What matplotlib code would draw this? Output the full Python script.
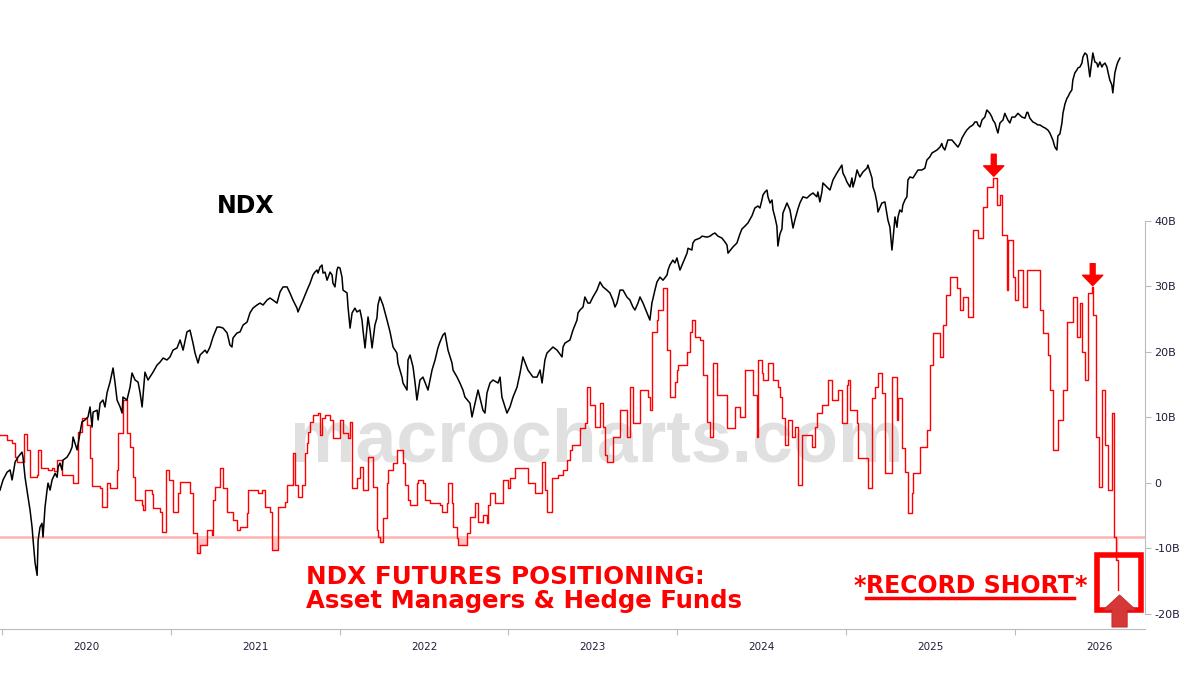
import numpy as np
import matplotlib
matplotlib.use('Agg')
import matplotlib.pyplot as plt
from matplotlib.patches import Rectangle

# NDX futures positioning, asset managers + hedge funds (billions), weekly steps
pos_t = [2019.958, 2020.000, 2020.030, 2020.048, 2020.060, 2020.101, 2020.119, 2020.137, 2020.179, 2020.185,
         2020.202, 2020.244, 2020.268, 2020.280, 2020.298, 2020.327, 2020.393, 2020.423, 2020.446, 2020.476,
         2020.494, 2020.506, 2020.554, 2020.565, 2020.595, 2020.613, 2020.655, 2020.661, 2020.690, 2020.714,
         2020.732, 2020.750, 2020.762, 2020.804, 2020.810, 2020.821, 2020.863, 2020.869, 2020.911, 2020.923,
         2020.946, 2020.964, 2020.988, 2021.018, 2021.030, 2021.089, 2021.107, 2021.131, 2021.149, 2021.190,
         2021.220, 2021.226, 2021.238, 2021.268, 2021.286, 2021.310, 2021.345, 2021.369, 2021.387, 2021.429,
         2021.435, 2021.494, 2021.518, 2021.536, 2021.565, 2021.577, 2021.613, 2021.655, 2021.667, 2021.702,
         2021.714, 2021.732, 2021.756, 2021.774, 2021.786, 2021.792, 2021.804, 2021.821, 2021.851, 2021.863,
         2021.875, 2021.893, 2021.923, 2021.940, 2021.982, 2022.000, 2022.030, 2022.042, 2022.054, 2022.083,
         2022.101, 2022.119, 2022.149, 2022.179, 2022.202, 2022.208, 2022.220, 2022.238, 2022.262, 2022.268,
         2022.298, 2022.321, 2022.357, 2022.369, 2022.387, 2022.399, 2022.440, 2022.446, 2022.476, 2022.488,
         2022.518, 2022.577, 2022.589, 2022.619, 2022.625, 2022.649, 2022.655, 2022.679, 2022.685, 2022.738,
         2022.756, 2022.786, 2022.804, 2022.833, 2022.857, 2022.863, 2022.875, 2022.905, 2022.952, 2022.982,
         2022.994, 2023.024, 2023.101, 2023.143, 2023.185, 2023.202, 2023.214, 2023.244, 2023.280, 2023.310,
         2023.333, 2023.351, 2023.363, 2023.411, 2023.440, 2023.452, 2023.470, 2023.500, 2023.530, 2023.548,
         2023.560, 2023.571, 2023.607, 2023.649, 2023.690, 2023.708, 2023.726, 2023.768, 2023.815, 2023.827,
         2023.839, 2023.869, 2023.875, 2023.905, 2023.929, 2023.946, 2023.976, 2023.988, 2023.994, 2024.048,
         2024.065, 2024.077, 2024.095, 2024.125, 2024.143, 2024.167, 2024.185, 2024.202, 2024.226, 2024.286,
         2024.333, 2024.363, 2024.393, 2024.440, 2024.464, 2024.470, 2024.494, 2024.500, 2024.530, 2024.560,
         2024.589, 2024.601, 2024.613, 2024.631, 2024.649, 2024.673, 2024.690, 2024.708, 2024.732, 2024.792,
         2024.810, 2024.821, 2024.851, 2024.887, 2024.911, 2024.946, 2024.970, 2025.000, 2025.006, 2025.018,
         2025.060, 2025.065, 2025.125, 2025.149, 2025.167, 2025.185, 2025.208, 2025.226, 2025.268, 2025.298,
         2025.304, 2025.327, 2025.345, 2025.363, 2025.387, 2025.393, 2025.435, 2025.476, 2025.494, 2025.512,
         2025.554, 2025.571, 2025.589, 2025.613, 2025.655, 2025.673, 2025.690, 2025.720, 2025.750, 2025.780,
         2025.810, 2025.833, 2025.869, 2025.893, 2025.911, 2025.923, 2025.952, 2025.958, 2025.988, 2026.000,
         2026.018, 2026.048, 2026.071, 2026.149, 2026.167, 2026.196, 2026.208, 2026.226, 2026.256, 2026.286,
         2026.310, 2026.345, 2026.369, 2026.387, 2026.399, 2026.417, 2026.435, 2026.458, 2026.464, 2026.482,
         2026.500, 2026.518, 2026.536, 2026.554, 2026.577, 2026.589, 2026.601, 2026.613]
pos_b = [7.3, 6.6, 6.1, 4.0, 3.2, 7.5, 5.0, 0.9, 1.2, 5.0,
         2.3, 2.0, 2.3, 1.8, 3.5, 1.2, 0.0, 7.8, 9.9, 8.9,
         3.8, -0.5, -0.8, -3.7, 0.0, -0.8, 2.0, 7.6, 12.7, 7.6,
         5.5, 0.9, -2.6, -3.4, -4.1, -1.1, -1.7, -3.8, -4.4, -7.5,
         2.0, 0.5, -4.4, -1.5, 0.2, -1.5, -7.6, -10.7, -9.5, -7.2,
         -7.9, -2.6, -0.6, 2.3, -0.8, -4.4, -5.7, -7.2, -6.7, -4.6,
         -1.1, -1.5, -1.1, -3.7, -4.4, -10.2, -3.7, -2.9, -0.3, 4.6,
         -0.3, -2.1, -0.3, 4.6, 6.1, 7.8, 9.3, 10.4, 10.7, 7.3,
         9.9, 10.4, 9.6, 6.9, 9.6, 7.6, 6.9, 9.3, -0.8, 0.8,
         2.4, -1.1, 4.0, -0.6, -7.2, -8.2, -9.0, -5.3, 0.0, 2.0,
         3.1, 5.0, 3.1, -0.3, -2.6, -3.4, 0.0, 0.5, 0.0, -2.6,
         -3.1, -3.4, -4.4, -3.1, 0.0, -3.1, -6.7, -8.4, -9.5, -7.6,
         -5.2, -3.1, -6.0, -4.9, -6.1, -3.4, -1.5, -3.1, 0.5, -0.8,
         0.8, 2.3, 0.0, -1.5, 3.2, -1.1, -4.4, 0.8, 1.2, 2.0,
         3.5, 5.0, 5.8, 8.4, 9.2, 14.7, 11.9, 8.6, 12.2, 8.6,
         4.3, 3.2, 7.0, 11.1, 7.0, 14.7, 9.2, 14.2, 13.1, 11.1,
         23.1, 24.9, 26.4, 29.8, 20.3, 13.1, 15.4, 17.3, 18.0, 20.0,
         23.1, 24.9, 22.3, 21.8, 16.5, 9.3, 7.0, 18.3, 13.4, 8.4,
         11.6, 10.1, 17.3, 13.4, 7.0, 18.8, 16.8, 15.7, 18.3, 15.7,
         14.7, 13.1, 9.9, 5.8, 9.6, 7.0, 8.6, -0.3, 7.3, 5.5,
         8.6, 10.7, 11.9, 15.7, 12.7, 14.2, 9.2, 15.0, 15.7, 11.1,
         9.2, 3.8, -0.8, 13.0, 14.7, 16.8, 13.7, 1.5, 16.2, 9.6,
         13.0, 5.3, 1.7, -4.6, -1.5, 1.5, 5.5, 8.1, 18.0, 22.9,
         19.2, 24.1, 28.7, 31.5, 29.8, 26.4, 28.4, 25.3, 38.6, 37.4,
         42.1, 45.2, 46.6, 42.4, 44.0, 37.9, 29.5, 37.1, 31.5, 27.9,
         32.5, 26.9, 32.5, 26.4, 22.9, 19.5, 14.2, 5.0, 9.6, 14.2,
         24.6, 28.4, 22.3, 27.5, 20.0, 15.7, 29.0, 29.9, 25.7, 7.0,
         -0.6, 14.2, 5.8, -1.1, 10.7, -8.2, -11.8, -16.3]

# NDX index level
ndx_t = [2019.958, 2019.976, 2020.000, 2020.018, 2020.030, 2020.048, 2020.065, 2020.089, 2020.095, 2020.107,
         2020.119, 2020.125, 2020.137, 2020.149, 2020.155, 2020.167, 2020.179, 2020.185, 2020.196, 2020.208,
         2020.214, 2020.226, 2020.238, 2020.244, 2020.256, 2020.268, 2020.286, 2020.298, 2020.304, 2020.315,
         2020.327, 2020.333, 2020.357, 2020.375, 2020.387, 2020.393, 2020.417, 2020.435, 2020.446, 2020.464,
         2020.482, 2020.494, 2020.506, 2020.512, 2020.536, 2020.542, 2020.554, 2020.571, 2020.583, 2020.595,
         2020.613, 2020.625, 2020.631, 2020.643, 2020.655, 2020.673, 2020.685, 2020.690, 2020.714, 2020.732,
         2020.744, 2020.762, 2020.780, 2020.792, 2020.804, 2020.821, 2020.839, 2020.869, 2020.893, 2020.911,
         2020.929, 2020.952, 2020.970, 2020.988, 2021.012, 2021.030, 2021.048, 2021.071, 2021.089, 2021.107,
         2021.119, 2021.137, 2021.149, 2021.179, 2021.190, 2021.208, 2021.226, 2021.250, 2021.268, 2021.286,
         2021.310, 2021.327, 2021.339, 2021.345, 2021.369, 2021.387, 2021.405, 2021.429, 2021.446, 2021.464,
         2021.488, 2021.506, 2021.524, 2021.548, 2021.565, 2021.583, 2021.607, 2021.625, 2021.643, 2021.667,
         2021.684, 2021.702, 2021.726, 2021.732, 2021.744, 2021.762, 2021.786, 2021.804, 2021.821, 2021.833,
         2021.845, 2021.851, 2021.863, 2021.875, 2021.881, 2021.893, 2021.905, 2021.923, 2021.935, 2021.940,
         2021.952, 2021.964, 2021.970, 2021.982, 2021.994, 2022.000, 2022.024, 2022.030, 2022.042, 2022.054,
         2022.071, 2022.083, 2022.101, 2022.113, 2022.119, 2022.131, 2022.143, 2022.149, 2022.161, 2022.173,
         2022.190, 2022.202, 2022.208, 2022.220, 2022.238, 2022.262, 2022.280, 2022.298, 2022.321, 2022.327,
         2022.339, 2022.351, 2022.357, 2022.381, 2022.387, 2022.399, 2022.417, 2022.429, 2022.440, 2022.458,
         2022.476, 2022.506, 2022.530, 2022.548, 2022.565, 2022.577, 2022.595, 2022.607, 2022.625, 2022.649,
         2022.655, 2022.679, 2022.696, 2022.714, 2022.726, 2022.756, 2022.768, 2022.786, 2022.804, 2022.833,
         2022.845, 2022.857, 2022.875, 2022.893, 2022.923, 2022.935, 2022.946, 2022.976, 2022.994, 2023.012,
         2023.036, 2023.054, 2023.071, 2023.101, 2023.131, 2023.155, 2023.173, 2023.185, 2023.202, 2023.214,
         2023.232, 2023.250, 2023.274, 2023.304, 2023.310, 2023.321, 2023.351, 2023.369, 2023.393, 2023.399,
         2023.411, 2023.429, 2023.440, 2023.458, 2023.470, 2023.488, 2023.512, 2023.530, 2023.548, 2023.571,
         2023.589, 2023.607, 2023.619, 2023.631, 2023.649, 2023.667, 2023.690, 2023.708, 2023.726, 2023.738,
         2023.756, 2023.768, 2023.786, 2023.810, 2023.827, 2023.839, 2023.857, 2023.869, 2023.887, 2023.905,
         2023.929, 2023.935, 2023.946, 2023.964, 2023.976, 2023.988, 2024.006, 2024.024, 2024.048, 2024.054,
         2024.077, 2024.083, 2024.095, 2024.125, 2024.137, 2024.167, 2024.185, 2024.202, 2024.214, 2024.232,
         2024.256, 2024.274, 2024.286, 2024.292, 2024.321, 2024.345, 2024.363, 2024.375, 2024.393, 2024.411,
         2024.435, 2024.452, 2024.470, 2024.482, 2024.494, 2024.500, 2024.512, 2024.524, 2024.530, 2024.542,
         2024.554, 2024.560, 2024.571, 2024.583, 2024.589, 2024.601, 2024.613, 2024.619, 2024.643, 2024.661,
         2024.679, 2024.690, 2024.708, 2024.720, 2024.738, 2024.762, 2024.780, 2024.798, 2024.821, 2024.827,
         2024.839, 2024.851, 2024.857, 2024.881, 2024.899, 2024.917, 2024.940, 2024.958, 2024.970, 2024.976,
         2024.988, 2025.000, 2025.018, 2025.030, 2025.036, 2025.048, 2025.060, 2025.077, 2025.095, 2025.119,
         2025.125, 2025.149, 2025.155, 2025.167, 2025.179, 2025.185, 2025.208, 2025.226, 2025.244, 2025.256,
         2025.268, 2025.274, 2025.286, 2025.298, 2025.304, 2025.315, 2025.327, 2025.333, 2025.345, 2025.357,
         2025.363, 2025.375, 2025.393, 2025.423, 2025.446, 2025.464, 2025.476, 2025.494, 2025.506, 2025.536,
         2025.554, 2025.565, 2025.571, 2025.583, 2025.595, 2025.601, 2025.625, 2025.643, 2025.661, 2025.673,
         2025.685, 2025.702, 2025.714, 2025.732, 2025.750, 2025.762, 2025.774, 2025.780, 2025.792, 2025.804,
         2025.821, 2025.833, 2025.851, 2025.863, 2025.869, 2025.881, 2025.893, 2025.899, 2025.911, 2025.929,
         2025.940, 2025.958, 2025.970, 2025.982, 2026.000, 2026.018, 2026.042, 2026.060, 2026.071, 2026.077,
         2026.089, 2026.107, 2026.119, 2026.137, 2026.149, 2026.167, 2026.179, 2026.196, 2026.208, 2026.226,
         2026.238, 2026.250, 2026.256, 2026.268, 2026.280, 2026.286, 2026.298, 2026.310, 2026.315, 2026.327,
         2026.339, 2026.345, 2026.357, 2026.369, 2026.375, 2026.387, 2026.399, 2026.405, 2026.417, 2026.429,
         2026.435, 2026.446, 2026.458, 2026.464, 2026.476, 2026.488, 2026.494, 2026.506, 2026.518, 2026.524,
         2026.536, 2026.548, 2026.554, 2026.565, 2026.577, 2026.583, 2026.589, 2026.595, 2026.607, 2026.613,
         2026.625]
ndx_v = [8675, 8930, 9130, 9190, 8930, 9400, 9530, 9670, 9530, 9000,
         8675, 8500, 8190, 7800, 7520, 7040, 6800, 7520, 7800, 7890,
         7585, 8260, 8675, 8850, 8675, 8930, 9100, 9000, 9265, 9370,
         9190, 9450, 9530, 9670, 9810, 10095, 9730, 10240, 10540, 10600,
         10690, 11000, 10385, 10840, 10900, 10600, 11120, 11220, 11000, 11450,
         11810, 12120, 12295, 11780, 11220, 11000, 10810, 11315, 11220, 11640,
         12120, 11880, 11810, 11450, 11000, 12150, 11880, 12150, 12400, 12505,
         12650, 12580, 12690, 12940, 13020, 13320, 12940, 13630, 13700, 13200,
         12830, 12470, 12760, 12940, 12830, 13055, 13430, 13820, 13820, 13780,
         13590, 13130, 13055, 13395, 13590, 13630, 13900, 14020, 14390, 14590,
         14720, 14800, 14720, 14930, 15015, 14930, 14800, 15280, 15500, 15500,
         15235, 14930, 14590, 14430, 14635, 14930, 15360, 15670, 16035, 16170,
         16265, 16125, 16400, 16500, 16125, 16170, 15800, 16170, 16035, 15670,
         15500, 16265, 16400, 16360, 15940, 15360, 15235, 14635, 13780, 14390,
         14590, 14430, 14510, 14100, 13700, 13020, 13820, 14225, 13700, 13020,
         13900, 14185, 14720, 15060, 14720, 14100, 13630, 13055, 12830, 12470,
         12224, 11980, 11780, 11545, 12580, 12760, 12330, 11780, 11220, 11880,
         11980, 11545, 12224, 12580, 13020, 13240, 13510, 13590, 12940, 12470,
         12224, 11980, 11780, 11545, 11315, 11120, 10690, 11120, 11545, 10900,
         10810, 11450, 11780, 11880, 11780, 11980, 11315, 10810, 11000, 11315,
         11640, 12120, 12690, 12224, 11980, 11980, 12224, 11780, 12580, 12830,
         12940, 13055, 12940, 12690, 13055, 13200, 13320, 13700, 14100, 14390,
         14510, 14635, 15060, 14800, 14800, 15060, 15360, 15720, 15500, 15360,
         15235, 14930, 14635, 14800, 15360, 15360, 15060, 14930, 14635, 14510,
         14800, 15060, 14800, 14390, 14100, 14800, 15360, 15720, 15940, 15800,
         16035, 16265, 16500, 16735, 16600, 16835, 16265, 16600, 17070, 17310,
         17222, 17570, 17720, 17820, 17920, 17870, 17920, 18030, 18080, 17920,
         17820, 17620, 17470, 17070, 17370, 17570, 18030, 18290, 18440, 18610,
         19000, 19420, 19530, 19420, 19870, 20150, 20330, 20440, 20050, 19700,
         19870, 19310, 18930, 18440, 17420, 18030, 18290, 19140, 19700, 19310,
         18340, 18760, 19360, 19700, 20050, 19980, 20150, 20270, 20050, 20330,
         19760, 20330, 20860, 20620, 20440, 21036, 21460, 21760, 21955, 21460,
         21220, 20920, 20620, 21160, 20620, 21036, 21646, 21220, 21520, 21760,
         21955, 21160, 20620, 20270, 19700, 19200, 19700, 19760, 18764, 18380,
         17222, 17722, 18930, 18380, 18930, 19308, 19200, 19590, 19868, 20050,
         21036, 21220, 21160, 21646, 21646, 21760, 22273, 22480, 22720, 22919,
         23110, 23350, 23110, 22919, 23350, 23584, 23584, 23350, 23110, 23350,
         23720, 24060, 24268, 24480, 24620, 24830, 24830, 24620, 24480, 24970,
         25180, 25695, 25450, 25180, 24970, 24760, 24268, 24060, 24760, 24970,
         25450, 24970, 24760, 25180, 25180, 25450, 25180, 25100, 25520, 25520,
         25100, 24830, 24760, 24620, 24620, 24480, 24410, 24268, 24060, 23584,
         23110, 22919, 23860, 24000, 24760, 25450, 26140, 26580, 26660, 26980,
         27207, 27995, 28570, 28805, 28970, 29050, 29380, 29890, 30240, 30070,
         29470, 28250, 29550, 30240, 29470, 29380, 29050, 29470, 29050, 29220,
         29380, 29050, 28640, 27995, 27600, 26980, 27760, 28570, 29220, 29470,
         29800]

threshold = -8.2
years = list(range(2020, 2027))
pos_ticks = [-20, -10, 0, 10, 20, 30, 40]
pos_labels = ['-20B', '-10B', '0', '10B', '20B', '30B', '40B']

plt.rcParams['font.family'] = ['DejaVu Sans']
RED = '#ff0000'


def calib(t):
    # dates above were read with a slightly stretched year grid; put them on the axis's year grid
    return 2020 + (np.asarray(t) - 2020) * 0.99467 + 0.0308


pos_t = calib(pos_t)
ndx_t = calib(ndx_t)
pos_b = np.array(pos_b)

fig = plt.figure(figsize=(12, 6.75), dpi=100)
ax = fig.add_axes([0.0, 0.0681, 0.954, 0.9319])
ax.set_xlim(2019.989, 2026.768)
ax.set_ylim(-22.3, 73.7)

# watermark
ax.text(0.4975, 0.3156, 'macrocharts.com', transform=fig.transFigure, ha='center', va='baseline',
        fontsize=53, fontweight='bold', family='Liberation Sans', color='#e0e0e0', zorder=0)

# record-short threshold line and shading
ax.axhline(threshold, color='#ffb3b3', lw=1.8, zorder=1.5)
ax.fill_between(pos_t, np.minimum(pos_b, threshold), threshold, step='post',
                color='#ffc2c2', lw=0, zorder=1.6)
ax.step(pos_t, pos_b, where='post', color=RED, lw=1.0, zorder=2)

# NDX on hidden log axis
axn = ax.twinx()
axn.set_yscale('log')
axn.set_ylim(5833, 35180)
axn.plot(ndx_t, ndx_v, color='black', lw=1.1)
axn.yaxis.set_visible(False)
for s in axn.spines.values():
    s.set_visible(False)

# axes styling (after twinx, which moves ticks to the left)
for s in ['top', 'left']:
    ax.spines[s].set_visible(False)
ax.spines['bottom'].set_color('#bbbbbb')
ax.spines['right'].set_visible(True)
ax.spines['right'].set_color('#bbbbbb')
ax.spines['right'].set_bounds(-20, 40)
ax.yaxis.tick_right()
ax.set_yticks(pos_ticks)
ax.set_yticklabels(pos_labels)
ax.tick_params(axis='y', which='both', left=False, labelleft=False, right=True, labelright=True,
               length=4, color='#bbbbbb', labelsize=8, labelcolor='#1f1f3a', pad=3)
ax.set_xticks(years)
ax.set_xticklabels([])
ax.set_xticks([y + 0.5 for y in years], minor=True)
ax.set_xticklabels([str(y) for y in years], minor=True)
ax.tick_params(axis='x', which='major', length=4, color='#bbbbbb')
ax.tick_params(axis='x', which='minor', length=0, labelsize=7.5, labelcolor='#1f1f3a', pad=9)

# down arrows over the positioning peaks
i1 = int(np.argmax(pos_b))
late = np.where(pos_t > 2026.3)[0]
i2 = int(late[np.argmax(pos_b[late])])
for i in (i1, i2):
    ax.annotate('', xy=(pos_t[i] + 0.005, pos_b[i] + 0.2), xytext=(0, 22), textcoords='offset pixels',
                arrowprops=dict(arrowstyle='simple,head_width=1.45,head_length=0.75,tail_width=0.35',
                                color=RED, shrinkA=0, shrinkB=0, mutation_scale=10))

# record short box + up arrow
rec_t, rec_b = pos_t[-1], pos_b[-1]
ax.add_patch(Rectangle((rec_t - 0.125, -19.4), 0.262, 8.4, fill=False, ec=RED, lw=4, zorder=4))
ax.annotate('', xy=(rec_t + 0.01, rec_b - 0.8), xytext=(rec_t + 0.01, -22.0),
            arrowprops=dict(arrowstyle='simple,head_width=2.4,head_length=1.1,tail_width=1.1',
                            fc='#d63838', ec='#c02828', lw=0.6, shrinkA=0, shrinkB=0, mutation_scale=10),
            annotation_clip=False, zorder=5)

# labels
fig.text(217 / 1200, 0.684, 'NDX', fontsize=17, fontweight='bold', color='black', va='baseline')
fig.text(306 / 1200, 0.1348, 'NDX FUTURES POSITIONING:', fontsize=17.8, fontweight='bold',
         color=RED, va='baseline')
fig.text(306 / 1200, 0.0993, 'Asset Managers & Hedge Funds', fontsize=17.6, fontweight='bold',
         color=RED, va='baseline')

rs = fig.text(0.8085, 0.1215, 'RECORD SHORT', fontsize=17, fontweight='bold', color=RED,
              ha='center', va='baseline')
fig.canvas.draw()
bb = rs.get_window_extent().transformed(fig.transFigure.inverted())
fig.text(bb.x0, 0.1215, '*', fontsize=17, fontweight='bold', color=RED, ha='right', va='baseline')
fig.text(bb.x1, 0.1215, '*', fontsize=17, fontweight='bold', color=RED, ha='left', va='baseline')
fig.add_artist(plt.Line2D([bb.x0, bb.x1], [0.1215 - 0.008, 0.1215 - 0.008], color=RED, lw=2.5,
                          transform=fig.transFigure))

fig.savefig('out.png', dpi=100)
